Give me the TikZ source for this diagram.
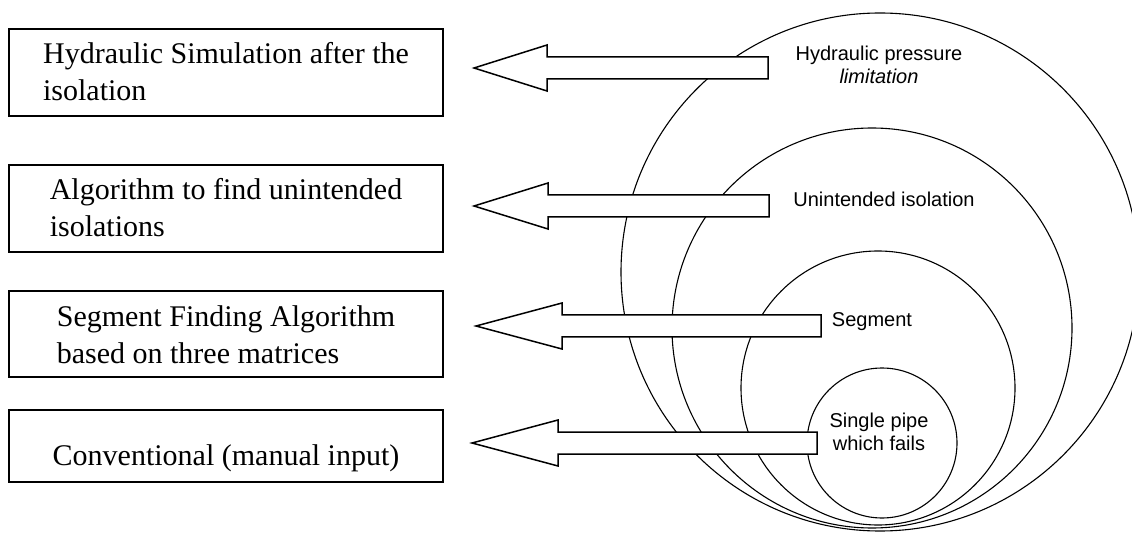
\documentclass[tikz,border=0pt]{standalone}
\usepackage{fontspec}
\setmainfont{Liberation Serif}
\newfontfamily\lblfont{Liberation Sans}
\begin{document}
\begin{tikzpicture}[x=1pt,y=-1pt,
  boxstyle/.style={draw, line width=1.6pt, minimum width=434pt, inner sep=0pt},
  boxtext/.style={font=\fontsize{30}{37}\selectfont, align=left, inner sep=0pt},
  ring/.style={draw, circle, line width=1.1pt, inner sep=0pt},
  blockarrow/.style={draw, fill=white, line width=1.5pt, line join=miter},
  lbl/.style={font=\lblfont\fontsize{20}{23.5}\selectfont, align=center, inner sep=0pt}]
\useasboundingbox (0,0) rectangle (1132,534);
\clip (0,0) rectangle (1132,534);

% nested circles
\node[ring, minimum size=518pt] (c1) at (880,272) {};
\node[ring, minimum size=400pt] (c2) at (872,328) {};
\node[ring, minimum size=274pt] (c3) at (878,388) {};
\node[ring, minimum size=150pt] (c4) at (882,443) {};

% circle labels
\node[lbl] (l1) at (879,65) {Hydraulic pressure\\\textit{limitation}};
\node[lbl, anchor=base] (l2) at (884,207) {Unintended isolation};
\node[lbl, anchor=base] (l3) at (872,327) {Segment};
\node[lbl] (l4) at (879,432) {Single pipe\\which fails};

% block arrows
\coordinate (a1) at (474,68);
\coordinate (a2) at (474,206);
\coordinate (a3) at (476,326);
\coordinate (a4) at (472,443);
\draw[blockarrow] (a1) -- ++(73,-23) -- ++(0,12) -- ++(221,0) -- ++(0,22) -- ++(-221,0) -- ++(0,12) -- cycle;
\draw[blockarrow] (a2) -- ++(74,-23) -- ++(0,12) -- ++(221,0) -- ++(0,22) -- ++(-221,0) -- ++(0,12) -- cycle;
\draw[blockarrow] (a3) -- ++(86,-23) -- ++(0,12) -- ++(259,0) -- ++(0,22) -- ++(-259,0) -- ++(0,12) -- cycle;
\draw[blockarrow] (a4) -- ++(86,-23) -- ++(0,12) -- ++(259,0) -- ++(0,22) -- ++(-259,0) -- ++(0,12) -- cycle;

% boxes
\node[boxstyle, minimum height=87pt] (b1) at (226,72.5) {};
\node[boxstyle, minimum height=87pt] (b2) at (226,208.5) {};
\node[boxstyle, minimum height=86pt] (b3) at (226,334) {};
\node[boxstyle, minimum height=72pt] (b4) at (226,446) {};

\node[boxtext] (t1) at (226,71.2) {Hydraulic Simulation after the\\isolation};
\node[boxtext] (t2) at (226,207.5) {Algorithm to find unintended\\isolations};
\node[boxtext] (t3) at (226,334.5) {Segment Finding Algorithm\\based on three matrices};
\node[boxtext, anchor=base] (t4) at (226,465) {Conventional (manual input)};
\end{tikzpicture}
\end{document}
